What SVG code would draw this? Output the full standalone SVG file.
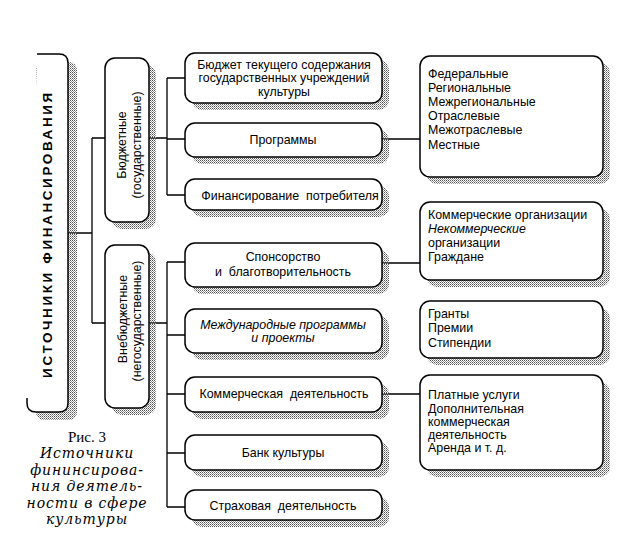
<svg xmlns="http://www.w3.org/2000/svg" width="638" height="544" viewBox="0 0 638 544">
<defs>
<pattern id="dots" patternUnits="userSpaceOnUse" width="2" height="2">
<rect x="0" y="0" width="1" height="1" fill="#555"/>
<rect x="1" y="1" width="1" height="1" fill="#999"/>
</pattern>
<style>
.box{fill:#fff;stroke:#000;stroke-width:1.5}
.sh{fill:url(#dots)}
.ln{fill:none;stroke:#000;stroke-width:1.3}
.t{font-family:"Liberation Sans",Arial,sans-serif;font-size:12.4px;fill:#000}
.c{text-anchor:middle}
.title{font-family:"Liberation Sans",Arial,sans-serif;font-size:13.5px;font-weight:bold;letter-spacing:2.6px;text-anchor:middle}
.cap{font-family:"DejaVu Serif","Liberation Serif",serif;font-size:14px;letter-spacing:0.9px;text-anchor:middle;fill:#000}
.rs{font-family:"Liberation Serif","Times New Roman",serif;font-size:15px;text-anchor:middle;fill:#000}
.it{font-style:italic}
</style>
</defs>
<rect width="638" height="544" fill="#fff"/>

<g id="connectors">
<path class="ln" d="M68,233 H92 M92,138 V323 M92,138 H105 M92,323 H105"/>
<path class="ln" d="M149,138 H167 M167,78 V195 M167,78 H185 M167,139 H185 M167,195 H185"/>
<path class="ln" d="M149,323 H167 M167,262 V507 M167,262 H185 M167,335 H185 M167,394 H185 M167,453 H185 M167,507 H185"/>
<path class="ln" d="M382,139 H420 M382,263 H420 M382,394 H420"/>
</g>

<g id="main">
<rect class="sh" x="36" y="62" width="41" height="358" rx="8"/>
<path d="M37,54 H59 Q68,54 68,63 V403 Q68,412 59,412 H36 Q27,412 27,403 V398" fill="#fff" stroke="#000" stroke-width="1.5"/>
<text class="title" transform="translate(52,234) rotate(-90)">ИСТОЧНИКИ ФИНАНСИРОВАНИЯ</text>
</g>

<g id="budget">
<rect class="sh" x="112" y="65" width="44" height="164" rx="10"/>
<rect class="box" x="105" y="58" width="44" height="164" rx="10"/>
<text class="t c" transform="translate(126,145) rotate(-90)">Бюджетные</text>
<text class="t c" transform="translate(141,145) rotate(-90)">(государственные)</text>
</g>

<g id="extrabudget">
<rect class="sh" x="112" y="252" width="44" height="163" rx="10"/>
<rect class="box" x="105" y="245" width="44" height="163" rx="10"/>
<text class="t c" transform="translate(127,319) rotate(-90)">Внебюджетные</text>
<text class="t c" transform="translate(141,321) rotate(-90)">(негосударственные)</text>
</g>

<g id="b1">
<rect class="sh" x="192" y="60" width="197" height="50" rx="10"/>
<rect class="box" x="185" y="53" width="197" height="50" rx="10"/>
<text class="t c" x="284" y="69">Бюджет текущего содержания</text>
<text class="t c" x="284" y="82">государственных учреждений</text>
<text class="t c" x="284" y="96">культуры</text>
</g>

<g id="b2">
<rect class="sh" x="192" y="130" width="197" height="34" rx="10"/>
<rect class="box" x="185" y="123" width="197" height="34" rx="10"/>
<text class="t c" x="283" y="144">Программы</text>
</g>

<g id="b3">
<rect class="sh" x="192" y="186" width="197" height="31" rx="10"/>
<rect class="box" x="185" y="179" width="197" height="31" rx="10"/>
<text class="t c" x="290" y="200" xml:space="preserve">Финансирование  потребителя</text>
</g>

<g id="b4">
<rect class="sh" x="192" y="250" width="197" height="44" rx="10"/>
<rect class="box" x="185" y="243" width="197" height="44" rx="10"/>
<text class="t c" x="283" y="261">Спонсорство</text>
<text class="t c" x="283" y="276" xml:space="preserve">и  благотворительность</text>
</g>

<g id="b5">
<rect class="sh" x="192" y="316" width="197" height="44" rx="10"/>
<rect class="box" x="185" y="309" width="197" height="44" rx="10"/>
<text class="t c it" x="283" y="329">Международные программы</text>
<text class="t c it" x="283" y="342">и проекты</text>
</g>

<g id="b6">
<rect class="sh" x="192" y="384" width="197" height="35" rx="10"/>
<rect class="box" x="185" y="377" width="197" height="35" rx="10"/>
<text class="t c" x="284" y="398" xml:space="preserve">Коммерческая  деятельность</text>
</g>

<g id="b7">
<rect class="sh" x="192" y="442" width="197" height="35" rx="10"/>
<rect class="box" x="185" y="435" width="197" height="35" rx="10"/>
<text class="t c" x="283" y="457">Банк культуры</text>
</g>

<g id="b8">
<rect class="sh" x="192" y="497" width="197" height="30" rx="10"/>
<rect class="box" x="185" y="490" width="197" height="30" rx="10"/>
<text class="t c" x="283" y="510" xml:space="preserve">Страховая  деятельность</text>
</g>

<g id="r1">
<rect class="sh" x="427" y="63" width="183" height="121" rx="10"/>
<rect class="box" x="420" y="56" width="183" height="121" rx="10"/>
<text class="t" x="428" y="78">Федеральные</text>
<text class="t" x="428" y="92">Региональные</text>
<text class="t" x="428" y="106">Межрегиональные</text>
<text class="t" x="428" y="120">Отраслевые</text>
<text class="t" x="428" y="134">Межотраслевые</text>
<text class="t" x="428" y="149">Местные</text>
</g>

<g id="r2">
<rect class="sh" x="427" y="209" width="183" height="78" rx="10"/>
<rect class="box" x="420" y="202" width="183" height="78" rx="10"/>
<text class="t" x="428" y="219">Коммерческие организации</text>
<text class="t it" x="428" y="233">Некоммерческие</text>
<text class="t" x="428" y="247">организации</text>
<text class="t" x="428" y="261">Граждане</text>
</g>

<g id="r3">
<rect class="sh" x="427" y="308" width="183" height="57" rx="10"/>
<rect class="box" x="420" y="301" width="183" height="57" rx="10"/>
<text class="t" x="428" y="318">Гранты</text>
<text class="t" x="428" y="332">Премии</text>
<text class="t" x="428" y="347">Стипендии</text>
</g>

<g id="r4">
<rect class="sh" x="427" y="382" width="183" height="95" rx="10"/>
<rect class="box" x="420" y="375" width="183" height="95" rx="10"/>
<text class="t" x="428" y="399">Платные услуги</text>
<text class="t" x="428" y="413">Дополнительная</text>
<text class="t" x="428" y="426">коммерческая</text>
<text class="t" x="428" y="439">деятельность</text>
<text class="t" x="428" y="452">Аренда и т. д.</text>
</g>

<g id="caption">
<text class="rs" x="87" y="442">Рис. 3</text>
<text class="cap it" x="87" y="458">Источники</text>
<text class="cap it" x="87" y="475">фининсирова-</text>
<text class="cap it" x="87" y="491">ния деятель-</text>
<text class="cap it" x="87" y="508">ности в сфере</text>
<text class="cap it" x="87" y="524">культуры</text>
</g>
</svg>
